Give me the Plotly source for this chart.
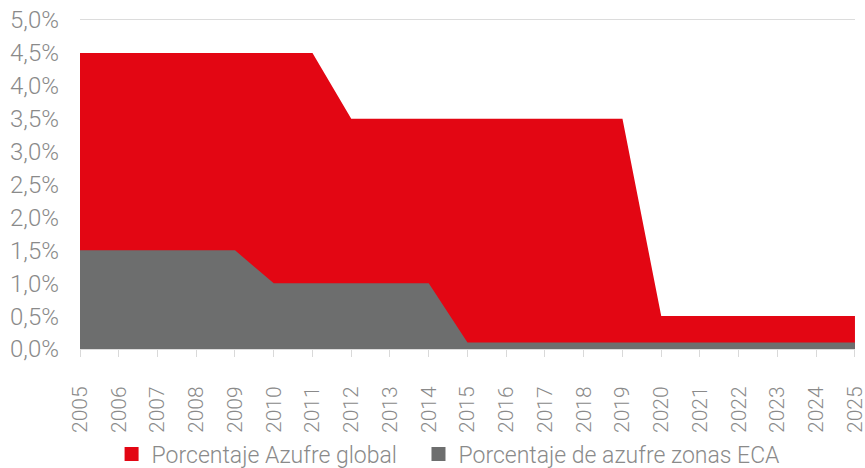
import plotly.graph_objects as go

years = list(range(2005, 2026))
azufre_global = [4.5, 4.5, 4.5, 4.5, 4.5, 4.5, 4.5, 3.5, 3.5, 3.5, 3.5, 3.5, 3.5, 3.5, 3.5,
                 0.5, 0.5, 0.5, 0.5, 0.5, 0.5]
azufre_eca = [1.5, 1.5, 1.5, 1.5, 1.5, 1.0, 1.0, 1.0, 1.0, 1.0, 0.1, 0.1, 0.1, 0.1, 0.1,
              0.1, 0.1, 0.1, 0.1, 0.1, 0.1]
names = ['Porcentaje Azufre global', 'Porcentaje de azufre zonas ECA']
colors = ['#E30613', '#6D6E6E']
legend_ids = ['legend', 'legend2']

fig = go.Figure()
for vals, name, col in zip([azufre_global, azufre_eca], names, colors):
    fig.add_trace(go.Scatter(x=years, y=[v / 100 for v in vals], fill='tozeroy',
                             mode='none', fillcolor=col, name=name, showlegend=False))
for name, col, lid in zip(names, colors, legend_ids):
    fig.add_trace(go.Scatter(x=[None], y=[None], mode='markers', name=name, legend=lid,
                             marker=dict(symbol='square', size=14, color=col)))

grey = '#8a8a8a'
legfont = dict(family='Roboto', size=23, color=grey, weight=300)
fig.update_layout(
    width=865, height=468,
    margin=dict(l=80, r=10, t=20, b=119, autoexpand=False),
    paper_bgcolor='white', plot_bgcolor='white',
    separators=',.',
    font=dict(family='Roboto', size=22, color=grey, weight=300),
    showlegend=True,
    legend=dict(orientation='h', xref='container', yref='container',
                x=0.129, xanchor='left', y=0.03, yanchor='middle', font=legfont),
    legend2=dict(orientation='h', xref='container', yref='container',
                 x=0.4838, xanchor='left', y=0.03, yanchor='middle', font=legfont),
    xaxis=dict(range=[2005, 2025.001], tickvals=years, ticktext=[str(y) for y in years],
               tickangle=-90, ticks='outside', ticklen=7, tickcolor='#d9d9d9',
               showgrid=False, showline=True, mirror=True, linecolor='#dcdcdc',
               zeroline=False, automargin=False, ticklabelstandoff=21,
               ticklabeloverflow='allow',
               tickfont=dict(family='Roboto', size=21, color=grey, weight=300)),
    yaxis=dict(range=[0, 0.05], dtick=0.005, tickformat='.1%', showgrid=False,
               zeroline=False, ticks='', automargin=False, showline=False,
               ticklabelstandoff=20,
               tickfont=dict(family='Roboto', size=24, color=grey, weight=300)),
)
fig.write_html('out.html', config={'displayModeBar': False},
               post_script="document.body.style.margin='0';document.body.style.overflow='hidden';")
